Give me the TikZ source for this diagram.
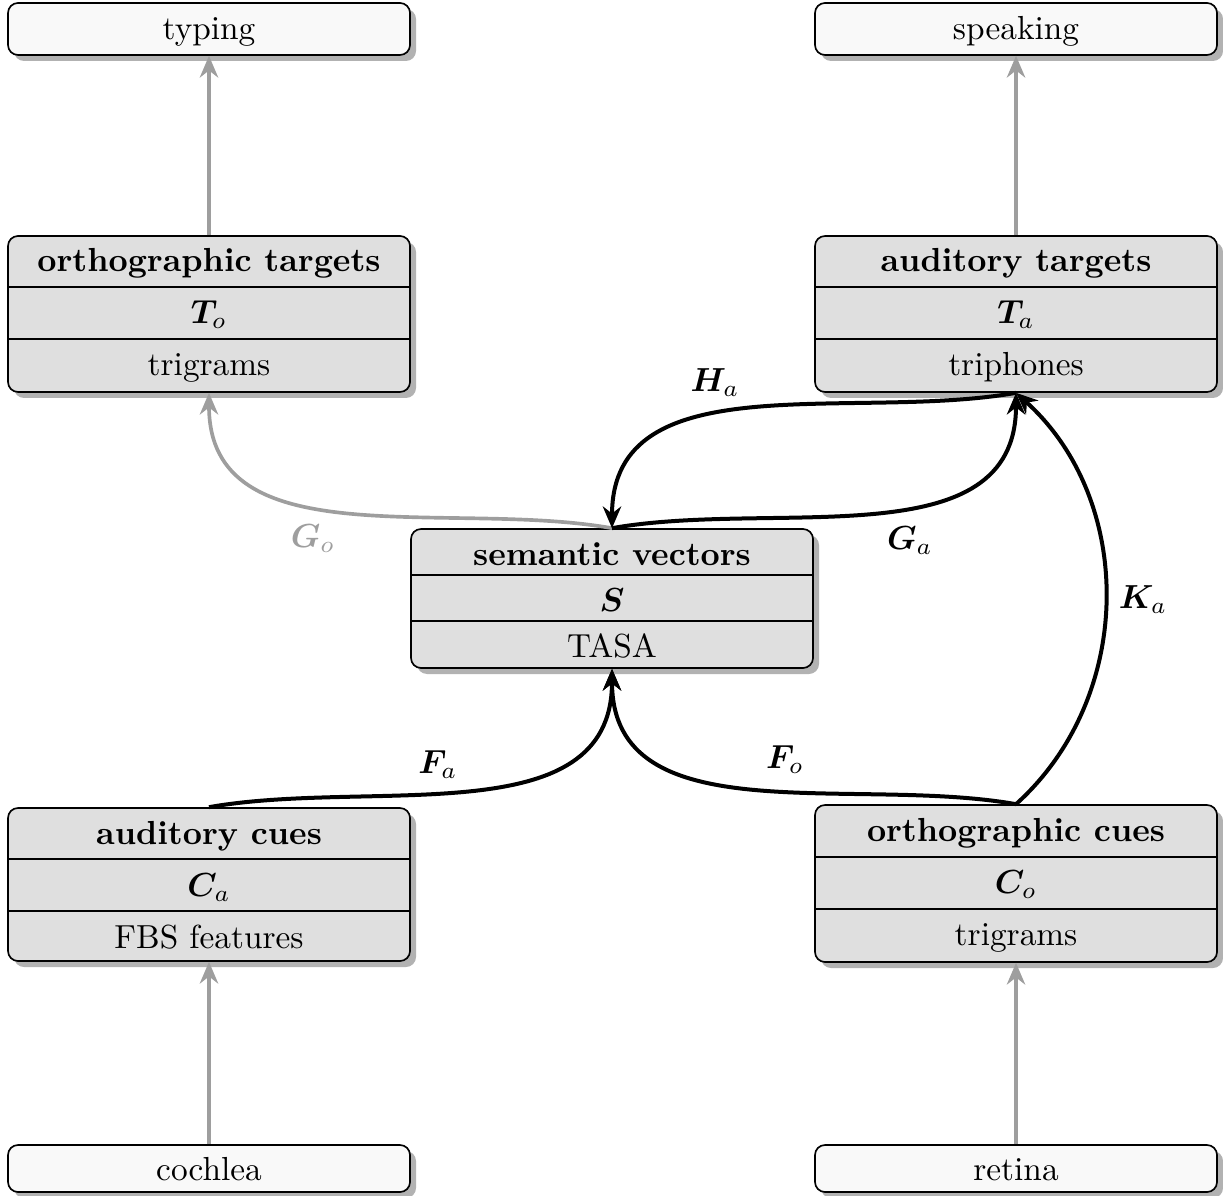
\documentclass[tikz,border=0pt]{standalone}
\usepackage{amsmath}
\usepackage{bm}
\usetikzlibrary{shadows,arrows.meta}
\definecolor{boxfill}{gray}{0.875}
\definecolor{leaffill}{gray}{0.975}
\definecolor{linkgray}{gray}{0.62}
\tikzset{
  shadowed/.style={drop shadow={shadow xshift=1.8pt, shadow yshift=-1.8pt, fill=black!30, opacity=1}},
  leafbox/.style={draw=black, line width=0.5pt, rounded corners=3pt, fill=leaffill,
    minimum width=120.6pt, inner sep=0pt, shadowed},
  tribox/.style={draw=black, line width=0.5pt, rounded corners=3pt, fill=boxfill,
    minimum width=120.6pt, inner sep=0pt, shadowed},
  divider/.style={draw=black, line width=0.5pt},
  rowtext/.style={inner sep=0pt, text height=8.5pt, text depth=2pt},
  blink/.style={draw=black, line width=1.2pt, -{Stealth[length=6.5pt,width=5.5pt]}},
  glink/.style={draw=linkgray, line width=1.1pt, -{Stealth[length=6.5pt,width=5.5pt]}},
  maplabel/.style={inner sep=1pt}
}
\begin{document}
\begin{tikzpicture}[x=0.3pt,y=-0.3pt]
\useasboundingbox (0,0) rectangle (1223,1196);

% leaf boxes
\node[leafbox, minimum height=15.6pt] (typing) at (209,29) {};
\node[rowtext] (typingt) at (typing.center) {typing};
\node[leafbox, minimum height=15.6pt] (speaking) at (1016,29) {};
\node[rowtext] (speakingt) at (speaking.center) {speaking};
\node[leafbox, minimum height=14.1pt] (cochlea) at (209,1168.5) {};
\node[rowtext] (cochleat) at ([yshift=-0.4pt]cochlea.center) {cochlea};
\node[leafbox, minimum height=14.1pt] (retina) at (1016,1168.5) {};
\node[rowtext] (retinat) at ([yshift=-0.4pt]retina.center) {retina};

% orthographic targets
\node[tribox, minimum height=46.8pt] (ot) at (209,314) {};
\draw[divider] ([yshift=-15.6pt]ot.north west) -- ([yshift=-15.6pt]ot.north east);
\draw[divider] ([yshift=-31.2pt]ot.north west) -- ([yshift=-31.2pt]ot.north east);
\node[rowtext] (ot1) at ([yshift=-7.8pt]ot.north) {\textbf{orthographic targets}};
\node[rowtext] (ot2) at ([yshift=-23.4pt]ot.north) {$\bm{T}_o$};
\node[rowtext] (ot3) at ([yshift=-39.0pt]ot.north) {trigrams};

% auditory targets
\node[tribox, minimum height=46.8pt] (at) at (1016,314) {};
\draw[divider] ([yshift=-15.6pt]at.north west) -- ([yshift=-15.6pt]at.north east);
\draw[divider] ([yshift=-31.2pt]at.north west) -- ([yshift=-31.2pt]at.north east);
\node[rowtext] (at1) at ([yshift=-7.8pt]at.north) {\textbf{auditory targets}};
\node[rowtext] (at2) at ([yshift=-23.4pt]at.north) {$\bm{T}_a$};
\node[rowtext] (at3) at ([yshift=-39.0pt]at.north) {triphones};

% semantic vectors
\node[tribox, minimum height=41.7pt] (sem) at (612,598.5) {};
\draw[divider] ([yshift=-14.1pt]sem.north west) -- ([yshift=-14.1pt]sem.north east);
\draw[divider] ([yshift=-27.9pt]sem.north west) -- ([yshift=-27.9pt]sem.north east);
\node[rowtext] (sem1) at ([yshift=-7.8pt]sem.north) {\textbf{semantic vectors}};
\node[rowtext] (sem2) at ([yshift=-21.6pt]sem.north) {$\bm{S}$};
\node[rowtext] (sem3) at ([yshift=-35.6pt]sem.north) {TASA};

% auditory cues
\node[tribox, minimum height=45.9pt] (ac) at (209,884.5) {};
\draw[divider] ([yshift=-15.6pt]ac.north west) -- ([yshift=-15.6pt]ac.north east);
\draw[divider] ([yshift=-31.2pt]ac.north west) -- ([yshift=-31.2pt]ac.north east);
\node[rowtext] (ac1) at ([yshift=-7.8pt]ac.north) {\textbf{auditory cues}};
\node[rowtext] (ac2) at ([yshift=-23.4pt]ac.north) {$\bm{C}_a$};
\node[rowtext] (ac3) at ([yshift=-39.2pt]ac.north) {FBS features};

% orthographic cues
\node[tribox, minimum height=47.1pt] (oc) at (1016,883.5) {};
\draw[divider] ([yshift=-15.8pt]oc.north west) -- ([yshift=-15.8pt]oc.north east);
\draw[divider] ([yshift=-31.4pt]oc.north west) -- ([yshift=-31.4pt]oc.north east);
\node[rowtext] (oc1) at ([yshift=-7.9pt]oc.north) {\textbf{orthographic cues}};
\node[rowtext] (oc2) at ([yshift=-23.6pt]oc.north) {$\bm{C}_o$};
\node[rowtext] (oc3) at ([yshift=-39.2pt]oc.north) {trigrams};

% gray links
\draw[glink] (ot.north) -- (typing.south);
\draw[glink] (at.north) -- (speaking.south);
\draw[glink] (cochlea.north) -- (ac.south);
\draw[glink] (retina.north) -- (oc.south);
\draw[glink] (sem.north) to[out=170,in=-90] (ot.south);

% black links
\draw[blink] (sem.north) to[out=10,in=-90] (at.south);
\draw[blink] (at.south) to[out=190,in=90] (sem.north);
\draw[blink] (ac.north) to[out=10,in=-90] (sem.south);
\draw[blink] (oc.north) to[out=170,in=-90] (sem.south);
\draw[blink] (oc.north) to[bend right=48] (at.south);

% labels
\node[maplabel] (Ha) at (715,383) {$\bm{H}_a$};
\node[maplabel] (Ga) at (910,541) {$\bm{G}_a$};
\node[maplabel, text=linkgray] (Go) at (313,539) {$\bm{G}_o$};
\node[maplabel] (Ka) at (1143,600) {$\bm{K}_a$};
\node[maplabel] (Fa) at (438,765) {$\bm{F}_a$};
\node[maplabel] (Fo) at (785,760) {$\bm{F}_o$};
\end{tikzpicture}
\end{document}
